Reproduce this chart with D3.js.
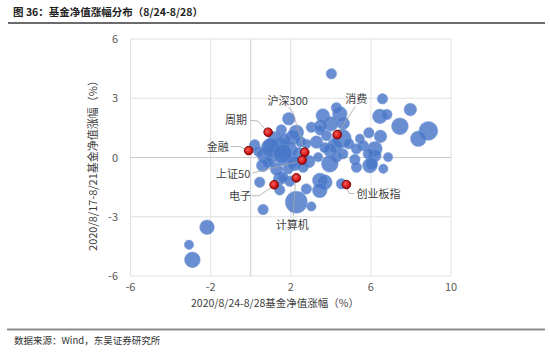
<!DOCTYPE html>
<html><head><meta charset="utf-8">
<script src="https://cdn.jsdelivr.net/npm/d3@7"></script>
<style>body{margin:0;background:#fff;}svg{display:block;}</style>
</head><body>
<svg id="c" width="550" height="356"></svg>
<script>
// ---- data ----
const fundX = [4.03,6.58,7.97,4.28,4.45,3.6,1.9,6.45,6.8,7.45,8.87,8.37,6.48,5.9,4.62,3.03,1.53,2.28,3.45,3.78,3.28,4.55,5.45,5.62,5.28,6.2,6.2,6.86,0.2,0.7,1.45,2.12,0.95,1.62,2.78,3.95,4.28,3.95,3.37,5.2,5.28,5.95,6.62,0.45,1.45,1.45,1.95,2.28,0.62,2.78,3.45,3.7,3.45,3.03,4.53,-2.18,-3.08,-2.91,2.62,1.87,6.03,0.87,1.62,2.12,4.6,5.87,1.0,1.9,0.4,2.4,1.2,1.7,2.5,4.2,3.7,4.9,1.0,1.6,2.2,0.6,1.3,2.9,4.0,3.5];
const fundY = [4.24,2.97,2.43,2.52,2.21,2.13,1.96,2.08,2.18,1.58,1.35,0.95,1.07,1.25,1.74,1.53,1.4,1.28,1.37,1.11,0.78,0.96,0.95,0.61,0.44,0.44,0.1,0.02,0.65,0.1,0.52,1.03,-0.15,0.02,0.69,0.35,0.02,-0.32,0.02,-0.1,-0.49,-0.41,-0.57,-1.25,-1.08,-1.64,-1.2,-2.26,-2.63,-1.59,-1.16,-1.25,-1.67,-2.48,-1.33,-3.53,-4.42,-5.18,-0.49,-0.57,-0.32,-0.24,-1.0,-0.24,0.19,0.19,0.6,0.4,0.3,0.2,1.0,0.9,0.8,0.6,0.5,0.7,0.5,0.2,-0.3,-0.4,-0.6,-0.2,1.7,1.6];
const fundSize = [25,25,36,25,49,42,36,49,25,64,81,56,36,25,36,25,25,49,20,25,36,81,20,25,25,49,36,20,25,49,81,49,36,64,20,36,25,64,20,25,25,49,20,25,36,25,25,110,25,25,49,49,49,20,25,49,20,56,25,25,36,25,25,25,25,25,49,64,25,36,36,36,25,49,25,25,81,81,49,36,36,36,49,36];

const idxNames = ["周期","金融","沪深300","上证50","消费","电子","计算机","创业板指"];
const idxX = [0.87,-0.1,2.7,2.57,4.32,1.17,2.28,4.78];
const idxY = [1.28,0.35,0.27,-0.13,1.16,-1.38,-1.03,-1.37];

const xTicks = [-6,-2,2,6,10];
const yTicks = [-6,-3,0,3,6];

// ---- layout ----
const svg = d3.select("#c");
const font = "'Noto Sans CJK SC','Noto Sans',sans-serif";
const x = d3.scaleLinear().domain([-6,10]).range([130.5,451]);
const y = d3.scaleLinear().domain([-6,6]).range([276,39]);
const r = d3.scaleSqrt().domain([0,110]).range([0,11]);

const defs = svg.append("defs");
const grad = defs.append("radialGradient").attr("id","rg").attr("cx","40%").attr("cy","40%").attr("r","60%");
grad.append("stop").attr("offset","0%").attr("stop-color","#ff5a5a");
grad.append("stop").attr("offset","100%").attr("stop-color","#b80000");

// title
svg.append("text").attr("x",13).attr("y",16).attr("font-family",font).attr("font-weight","bold")
  .attr("font-size",10.5).attr("fill","#222").text("图 36：基金净值涨幅分布（8/24-8/28）");
svg.append("line").attr("x1",8).attr("x2",545).attr("y1",23).attr("y2",23).attr("stroke","#3a3a3a").attr("stroke-width",1.5);

// grid
const g = svg.append("g");
g.selectAll(".vg").data(xTicks).join("line").attr("x1",d=>x(d)).attr("x2",d=>x(d))
  .attr("y1",y(6)).attr("y2",y(-6)).attr("stroke","#d9d9d9").attr("stroke-width",0.8);
g.selectAll(".hg").data(yTicks).join("line").attr("y1",d=>y(d)).attr("y2",d=>y(d))
  .attr("x1",x(-6)).attr("x2",x(10)).attr("stroke","#d9d9d9").attr("stroke-width",0.8);
g.append("line").attr("x1",x(0)).attr("x2",x(0)).attr("y1",y(6)).attr("y2",y(-6)).attr("stroke","#c8c8c8").attr("stroke-width",0.9);
g.append("line").attr("y1",y(0)).attr("y2",y(0)).attr("x1",x(-6)).attr("x2",x(10)).attr("stroke","#c8c8c8").attr("stroke-width",0.9);

// tick labels
g.selectAll(".xt").data(xTicks).join("text").attr("x",d=>x(d)).attr("y",291).attr("text-anchor","middle")
  .attr("font-family",font).attr("font-size",11).attr("fill","#595959").text(d=>d);
g.selectAll(".yt").data(yTicks).join("text").attr("x",118).attr("y",d=>y(d)+4).attr("text-anchor","end")
  .attr("font-family",font).attr("font-size",11).attr("fill","#595959").text(d=>d);

// axis titles
svg.append("text").attr("x",275).attr("y",307).attr("text-anchor","middle").attr("font-family",font)
  .attr("font-size",10.5).attr("fill","#404040").text("2020/8/24-8/28基金净值涨幅（%）");
svg.append("text").attr("transform","translate(97,163) rotate(-90)").attr("text-anchor","middle").attr("font-family",font)
  .attr("font-size",11).attr("fill","#404040").text("2020/8/17-8/21基金净值涨幅（%）");

// bubbles
const funds = fundX.map((v,i)=>({x:v,y:fundY[i],s:fundSize[i]}));
g.selectAll(".b").data(funds).join("circle")
  .attr("cx",d=>x(d.x)).attr("cy",d=>y(d.y)).attr("r",d=>r(d.s))
  .attr("fill","#4876c8").attr("fill-opacity",0.82).attr("stroke","#7b9ad6").attr("stroke-width",0.5);

// leader lines & labels (layout offsets in px relative to the marker)
const labelLayout = {
  "周期":   {tx:-32,ty:-12, pts:[[-18,-12],[-10,-11],[-2,-2]]},
  "金融":   {tx:-31,ty:-4,  pts:[[-18,-4],[-9,-4],[-2,-1]]},
  "沪深300":{tx:-17,ty:-51, pts:[[-16,-45],[-12,-40],[-1,-4]]},
  "上证50": {tx:-69,ty:14,  pts:[[-50,13],[-2,1]]},
  "消费":   {tx:19,ty:-36,  pts:[[18,-28],[2,-3]]},
  "电子":   {tx:-34,ty:11,  pts:[[-22,11],[-15,11],[-2,2]]},
  "计算机": {tx:-4,ty:47,   pts:[[-3,38],[-1,4]]},
  "创业板指":{tx:32,ty:9,   pts:[[0,3],[3,9],[8,9]]}
};
const idx = idxNames.map((n,i)=>({n,x:idxX[i],y:idxY[i]}));
const line = d3.line();
idx.forEach(d=>{
  const L = labelLayout[d.n], px = x(d.x), py = y(d.y);
  g.append("path").attr("d",line(L.pts.map(p=>[px+p[0],py+p[1]]))).attr("fill","none")
    .attr("stroke","#a6a6a6").attr("stroke-width",0.8);
  g.append("text").attr("x",px+L.tx).attr("y",py+L.ty+4).attr("text-anchor","middle")
    .attr("font-family",font).attr("font-size",11).attr("fill","#404040").text(d.n);
});
g.selectAll(".m").data(idx).join("circle").attr("cx",d=>x(d.x)).attr("cy",d=>y(d.y)).attr("r",4.3)
  .attr("fill","url(#rg)").attr("stroke","#6e0000").attr("stroke-width",0.9);

// footer
svg.append("line").attr("x1",7).attr("x2",545).attr("y1",329.5).attr("y2",329.5).attr("stroke","#8a8a8a").attr("stroke-width",2);
svg.append("text").attr("x",14).attr("y",344).attr("font-family",font).attr("font-size",9.5).attr("fill","#333")
  .text("数据来源：Wind，东吴证券研究所");
</script>
</body></html>
